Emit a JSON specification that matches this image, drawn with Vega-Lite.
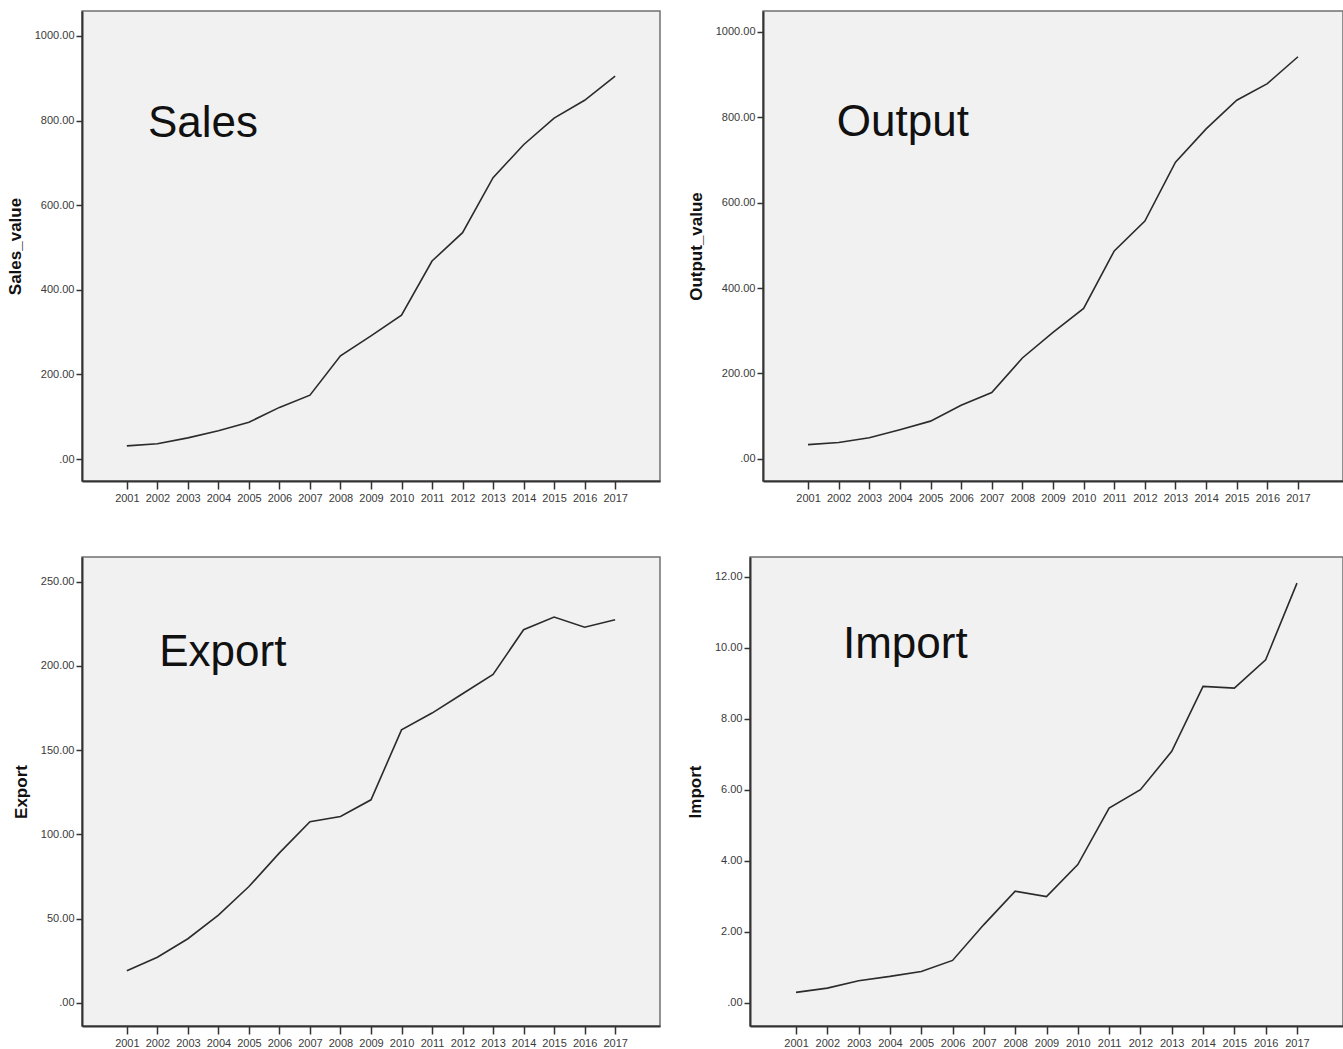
{
  "$schema": "https://vega.github.io/schema/vega-lite/v6.json",
  "padding": {"left": 5, "top": 10, "right": 0, "bottom": 0},
  "background": "white",
  "datasets": {
    "series": [
      {"year": 2001, "Sales_value": 31, "Output_value": 33, "Export": 19, "Import": 0.29},
      {"year": 2002, "Sales_value": 36, "Output_value": 38, "Export": 27, "Import": 0.41},
      {"year": 2003, "Sales_value": 50, "Output_value": 49, "Export": 38, "Import": 0.62},
      {"year": 2004, "Sales_value": 67, "Output_value": 68, "Export": 52, "Import": 0.74},
      {"year": 2005, "Sales_value": 87, "Output_value": 88, "Export": 69, "Import": 0.88},
      {"year": 2006, "Sales_value": 122, "Output_value": 125, "Export": 89, "Import": 1.19},
      {"year": 2007, "Sales_value": 151, "Output_value": 155, "Export": 107.5, "Import": 2.2},
      {"year": 2008, "Sales_value": 244, "Output_value": 236, "Export": 110.6, "Import": 3.14},
      {"year": 2009, "Sales_value": 291, "Output_value": 296, "Export": 120.5, "Import": 2.99},
      {"year": 2010, "Sales_value": 340, "Output_value": 352, "Export": 162, "Import": 3.89},
      {"year": 2011, "Sales_value": 468, "Output_value": 487, "Export": 172, "Import": 5.48},
      {"year": 2012, "Sales_value": 535, "Output_value": 557, "Export": 183.5, "Import": 6.0},
      {"year": 2013, "Sales_value": 665, "Output_value": 695, "Export": 195, "Import": 7.08},
      {"year": 2014, "Sales_value": 743, "Output_value": 773, "Export": 221.5, "Import": 8.91},
      {"year": 2015, "Sales_value": 806, "Output_value": 840, "Export": 229, "Import": 8.86},
      {"year": 2016, "Sales_value": 848, "Output_value": 879, "Export": 223, "Import": 9.66},
      {"year": 2017, "Sales_value": 905, "Output_value": 942, "Export": 227.4, "Import": 11.82}
    ]
  },
  "spacing": 52,
  "vconcat": [
    {
      "bounds": "flush",
      "spacing": 103,
      "hconcat": [
        {
          "width": 578, "height": 470,
          "layer": [
            {
              "data": {"name": "series"},
              "mark": {"type": "line", "color": "#2b2b2b", "strokeWidth": 1.6},
              "encoding": {
                "x": {"field": "year", "type": "quantitative", "scale": {"domain": [1999.53, 2018.47], "nice": false, "zero": false},
                      "axis": {"values": [2001,2002,2003,2004,2005,2006,2007,2008,2009,2010,2011,2012,2013,2014,2015,2016,2017], "format": "d", "labelOverlap": false, "labelSeparation": 0, "tickCount": 17}},
                "y": {"field": "Sales_value", "type": "quantitative", "scale": {"domain": [-52, 1059.1], "nice": false, "zero": false},
                      "axis": {"values": [0, 200, 400, 600, 800, 1000], "title": "Sales_value"}}
              }
            },
            {
              "data": {"values": [{"label": "Sales"}]},
              "mark": {"type": "text", "fontSize": 44, "font": "Liberation Sans", "color": "#111", "align": "left", "baseline": "alphabetic"},
              "encoding": {
                "x": {"datum": 2001.69, "type": "quantitative"},
                "y": {"datum": 762, "type": "quantitative"},
                "text": {"field": "label"}
              }
            }
          ]
        },
        {
          "width": 580, "height": 470,
          "layer": [
            {
              "data": {"name": "series"},
              "mark": {"type": "line", "color": "#2b2b2b", "strokeWidth": 1.6},
              "encoding": {
                "x": {"field": "year", "type": "quantitative", "scale": {"domain": [1999.53, 2018.47], "nice": false, "zero": false},
                      "axis": {"values": [2001,2002,2003,2004,2005,2006,2007,2008,2009,2010,2011,2012,2013,2014,2015,2016,2017], "format": "d", "labelOverlap": false, "labelSeparation": 0, "tickCount": 17}},
                "y": {"field": "Output_value", "type": "quantitative", "scale": {"domain": [-52.3, 1049.2], "nice": false, "zero": false},
                      "axis": {"values": [0, 200, 400, 600, 800, 1000], "title": "Output_value"}}
              }
            },
            {
              "data": {"values": [{"label": "Output"}]},
              "mark": {"type": "text", "fontSize": 44, "font": "Liberation Sans", "color": "#111", "align": "left", "baseline": "alphabetic"},
              "encoding": {
                "x": {"datum": 2001.94, "type": "quantitative"},
                "y": {"datum": 756, "type": "quantitative"},
                "text": {"field": "label"}
              }
            }
          ]
        }
      ]
    },
    {
      "bounds": "flush",
      "spacing": 90,
      "hconcat": [
        {
          "width": 578, "height": 469,
          "layer": [
            {
              "data": {"name": "series"},
              "mark": {"type": "line", "color": "#2b2b2b", "strokeWidth": 1.6},
              "encoding": {
                "x": {"field": "year", "type": "quantitative", "scale": {"domain": [1999.53, 2018.47], "nice": false, "zero": false},
                      "axis": {"values": [2001,2002,2003,2004,2005,2006,2007,2008,2009,2010,2011,2012,2013,2014,2015,2016,2017], "format": "d", "labelOverlap": false, "labelSeparation": 0, "tickCount": 17}},
                "y": {"field": "Export", "type": "quantitative", "scale": {"domain": [-13.8, 264.67], "nice": false, "zero": false},
                      "axis": {"values": [0, 50, 100, 150, 200, 250], "title": "Export"}}
              }
            },
            {
              "data": {"values": [{"label": "Export"}]},
              "mark": {"type": "text", "fontSize": 44, "font": "Liberation Sans", "color": "#111", "align": "left", "baseline": "alphabetic"},
              "encoding": {
                "x": {"datum": 2002.06, "type": "quantitative"},
                "y": {"datum": 200, "type": "quantitative"},
                "text": {"field": "label"}
              }
            }
          ]
        },
        {
          "width": 593, "height": 469,
          "layer": [
            {
              "data": {"name": "series"},
              "mark": {"type": "line", "color": "#2b2b2b", "strokeWidth": 1.6},
              "encoding": {
                "x": {"field": "year", "type": "quantitative", "scale": {"domain": [1999.53, 2018.47], "nice": false, "zero": false},
                      "axis": {"values": [2001,2002,2003,2004,2005,2006,2007,2008,2009,2010,2011,2012,2013,2014,2015,2016,2017], "format": "d", "labelOverlap": false, "labelSeparation": 0, "tickCount": 17}},
                "y": {"field": "Import", "type": "quantitative", "scale": {"domain": [-0.657, 12.555], "nice": false, "zero": false},
                      "axis": {"values": [0, 2, 4, 6, 8, 10, 12], "title": "Import"}}
              }
            },
            {
              "data": {"values": [{"label": "Import"}]},
              "mark": {"type": "text", "fontSize": 44, "font": "Liberation Sans", "color": "#111", "align": "left", "baseline": "alphabetic"},
              "encoding": {
                "x": {"datum": 2002.5, "type": "quantitative"},
                "y": {"datum": 9.71, "type": "quantitative"},
                "text": {"field": "label"}
              }
            }
          ]
        }
      ]
    }
  ],
  "config": {
    "view": {"fill": "#f1f1f1", "stroke": "#707070", "strokeWidth": 1.5},
    "axis": {
      "grid": false,
      "domainColor": "#333333",
      "domainWidth": 2,
      "tickColor": "#333333",
      "tickWidth": 1.5,
      "labelColor": "#3a3a3a",
      "labelFont": "Liberation Sans",
      "labelFontSize": 11,
      "labelFlush": false,
      "labelOverlap": false,
      "titleFont": "Liberation Sans",
      "titleFontWeight": "bold",
      "titleFontSize": 17,
      "titleColor": "#111111"
    },
    "axisX": {"tickSize": 8, "labelPadding": 3, "title": null},
    "axisY": {"tickSize": 6, "labelPadding": 2, "titlePadding": 10,
              "labelExpr": "datum.value == 0 ? '.00' : format(datum.value, '.2f')"}
  }
}
